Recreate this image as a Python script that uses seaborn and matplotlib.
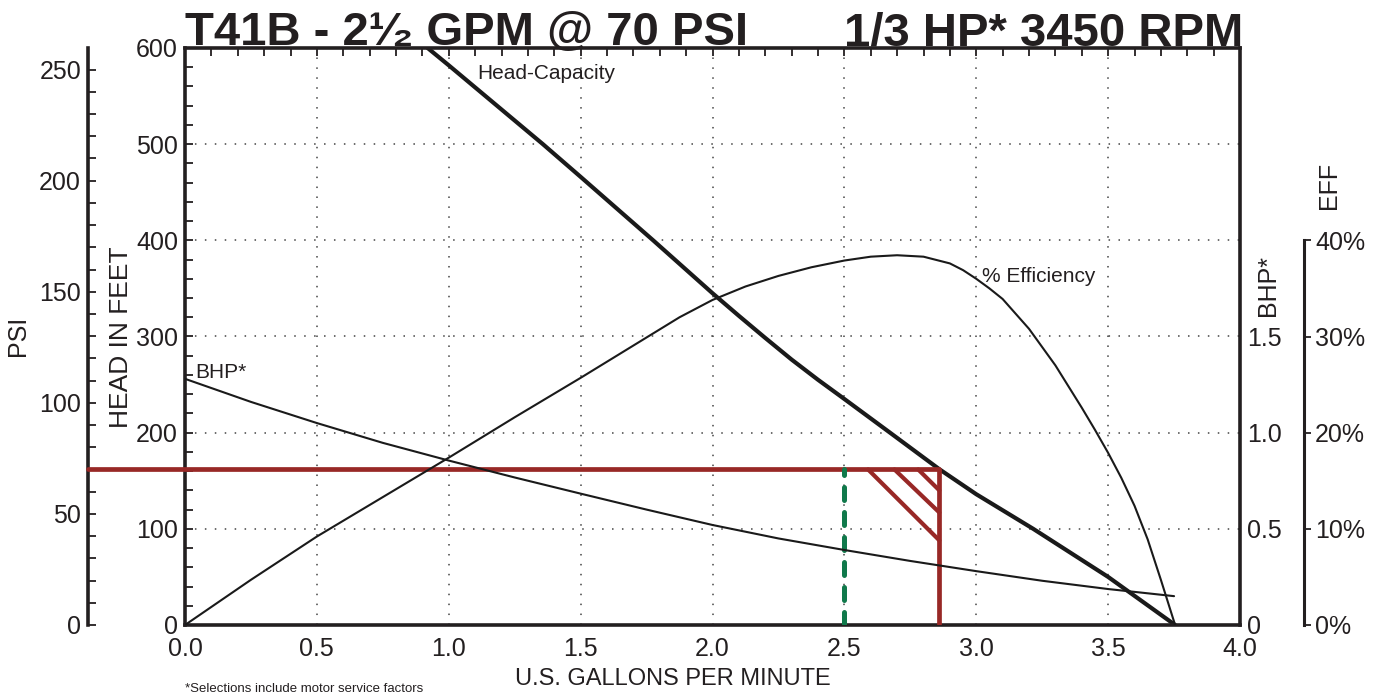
import matplotlib
matplotlib.use("Agg")
import matplotlib.pyplot as plt
import seaborn as sns
from matplotlib.ticker import MultipleLocator, FixedLocator

# Curve data
head_gpm = [0.92, 1.0, 1.357, 1.5, 1.775, 2.0, 2.1, 2.2, 2.3, 2.4, 2.5, 2.673, 2.86, 3.0,
            3.216, 3.5, 3.754]
head_ft = [600, 582, 500, 466, 400, 345, 321.5, 298.5, 276, 255, 235, 200, 162, 136, 100,
           50, 0]

eff_gpm = [0.0, 0.25, 0.5, 0.75, 1.0, 1.25, 1.5, 1.75, 1.875, 2.0, 2.125, 2.25, 2.375, 2.5,
           2.6, 2.7, 2.8, 2.9, 2.95, 3.0, 3.05, 3.1, 3.2, 3.3, 3.4, 3.45, 3.5, 3.55, 3.6,
           3.65, 3.7, 3.754]
eff_pct = [0.0, 4.7, 9.2, 13.3, 17.4, 21.6, 25.7, 29.9, 32.0, 33.8, 35.2, 36.3, 37.2, 37.9,
           38.3, 38.45, 38.3, 37.6, 36.9, 36.0, 35.0, 33.9, 30.8, 27.0, 22.6, 20.3, 17.9, 15.3,
           12.4, 8.9, 4.7, 0.0]

bhp_gpm = [0.0, 0.25, 0.5, 0.75, 1.0, 1.25, 1.5, 1.75, 2.0, 2.25, 2.5, 2.75, 3.0, 3.25, 3.5, 3.75]
bhp_hp = [1.28, 1.16, 1.05, 0.947, 0.855, 0.767, 0.683, 0.6, 0.52, 0.45, 0.39, 0.333, 0.28,
          0.23, 0.187, 0.15]

# operating point / selection window
op_psi = 70
op_gpm = 2.86
rated_gpm = 2.5
hatch_start_gpm = [2.59, 2.69, 2.78]
hatch_end_ft = [88, 117, 140]

FT_PER_PSI = 2.31
TXT = "#231f20"
RED = "#982826"
GREEN = "#10794b"

sns.set_style("white")
plt.rcParams["font.family"] = ["Liberation Sans", "DejaVu Sans"]
plt.rcParams["text.color"] = TXT

W, H = 1379, 696
fig = plt.figure(figsize=(W / 100, H / 100), dpi=100)
ax = fig.add_axes([185 / W, (H - 625) / H, 1055 / W, 577 / H])

ax.set_xlim(0, 4)
ax.set_ylim(0, 600)
ax.xaxis.set_major_locator(MultipleLocator(0.5))
ax.xaxis.set_minor_locator(MultipleLocator(0.1))
ax.yaxis.set_major_locator(MultipleLocator(100))
ax.yaxis.set_minor_locator(MultipleLocator(20))
ax.set_xticklabels([f"{v:.1f}" for v in ax.get_xticks()])
ax.tick_params(which="both", direction="in", top=True, right=True, length=6, width=1.3,
               colors=TXT, labelsize=18)
ax.tick_params(axis="x", pad=9)
ax.tick_params(axis="y", pad=5)
for s in ax.spines.values():
    s.set_linewidth(2.6)
    s.set_color(TXT)
ax.grid(which="major", linestyle=(0, (1, 5.5)), color="#444444", linewidth=1.1)
ax.set_axisbelow(True)

# head-capacity curve
sns.lineplot(x=head_gpm, y=head_ft, ax=ax, color="#1a1a1a", linewidth=3.0)
ax.text(1.107, 573, "Head-Capacity", fontsize=15, va="center", ha="left")

# PSI axis on the far left
ax_psi = ax.twinx()
ax_psi.set_ylim(0, 600 / FT_PER_PSI)
ax_psi.yaxis.set_ticks_position("left")
ax_psi.yaxis.set_major_locator(MultipleLocator(50))
ax_psi.yaxis.set_minor_locator(MultipleLocator(10))
for k in ["right", "top", "bottom"]:
    ax_psi.spines[k].set_visible(False)
ax_psi.spines["left"].set_visible(True)
ax_psi.spines["left"].set_position(("axes", -97 / 1055))
ax_psi.spines["left"].set_linewidth(2.6)
ax_psi.spines["left"].set_color(TXT)
ax_psi.tick_params(which="both", direction="in", length=6, width=1.3, colors=TXT,
                   labelsize=18, pad=5)

# BHP axis labels (right spine of main axes)
ax_bhp = ax.twinx()
ax_bhp.set_ylim(0, 3)
ax_bhp.yaxis.set_major_locator(FixedLocator([0, 0.5, 1.0, 1.5]))
ax_bhp.set_yticklabels(["0", "0.5", "1.0", "1.5"])
ax_bhp.tick_params(length=0, labelsize=18, pad=5, colors=TXT)
for s in ax_bhp.spines.values():
    s.set_visible(False)
sns.lineplot(x=bhp_gpm, y=bhp_hp, ax=ax_bhp, color="#1a1a1a", linewidth=1.5)

# efficiency axis outside to the right
ax_eff = ax.twinx()
ax_eff.set_ylim(0, 60)
for k in ["left", "top", "bottom"]:
    ax_eff.spines[k].set_visible(False)
ax_eff.spines["right"].set_position(("axes", 1119 / 1055))
ax_eff.spines["right"].set_bounds(0, 40)
ax_eff.spines["right"].set_linewidth(2.2)
ax_eff.spines["right"].set_color(TXT)
ax_eff.yaxis.set_major_locator(FixedLocator([0, 10, 20, 30, 40]))
ax_eff.set_yticklabels(["0%", "10%", "20%", "30%", "40%"])
ax_eff.tick_params(direction="out", length=5, width=1.3, colors=TXT, labelsize=18, pad=3)
sns.lineplot(x=eff_gpm, y=eff_pct, ax=ax_eff, color="#1a1a1a", linewidth=1.5)

# selection window
ax_psi.axhline(op_psi, xmin=-97 / 1055, xmax=op_gpm / 4, color=RED, linewidth=3.4,
               clip_on=False, zorder=5)
ax_psi.vlines(op_gpm, 0, op_psi, color=RED, linewidth=3.4, zorder=5)
for g, f in zip(hatch_start_gpm, hatch_end_ft):
    ax_psi.plot([g, op_gpm], [op_psi, f / FT_PER_PSI], color=RED, linewidth=3.0, zorder=5)
ax_psi.vlines(rated_gpm, 0, op_psi, color=GREEN, linewidth=3.6, linestyle=(0, (2.6, 2.4)),
              capstyle="round", zorder=6)

# curve labels
ax.text(3.02, 362, "% Efficiency", fontsize=15, va="center", ha="left")
ax.text(0.038, 263, "BHP*", fontsize=15, va="center", ha="left")

# axis titles
fig.text(18 / W, 1 - 336 / H, "PSI", rotation=90, ha="center", va="center", fontsize=18)
fig.text(121 / W, 1 - 337 / H, "HEAD IN FEET", rotation=90, ha="center", va="center",
         fontsize=19)
fig.text(1268 / W, 1 - 286 / H, "BHP*", rotation=90, ha="center", va="center", fontsize=18)
fig.text(1329 / W, 1 - 185 / H, "EFF", rotation=90, ha="center", va="center", fontsize=18)
fig.text(673 / W, 1 - 679 / H, "U.S. GALLONS PER MINUTE", ha="center", va="center",
         fontsize=17)
fig.text(185 / W, 1 - 683 / H, "*Selections include motor service factors", ha="left",
         va="top", fontsize=9.5)

# chart title
fig.text(185 / W, 1 - 45 / H, "T41B - 2\u00b9\u2044\u2082 GPM @ 70 PSI", ha="left",
         va="baseline", fontsize=34, fontweight="bold")
fig.text(1243 / W, 1 - 45 / H, "1/3 HP* 3450 RPM", ha="right", va="baseline", fontsize=34,
         fontweight="bold")

fig.savefig("out.png", dpi=100)
